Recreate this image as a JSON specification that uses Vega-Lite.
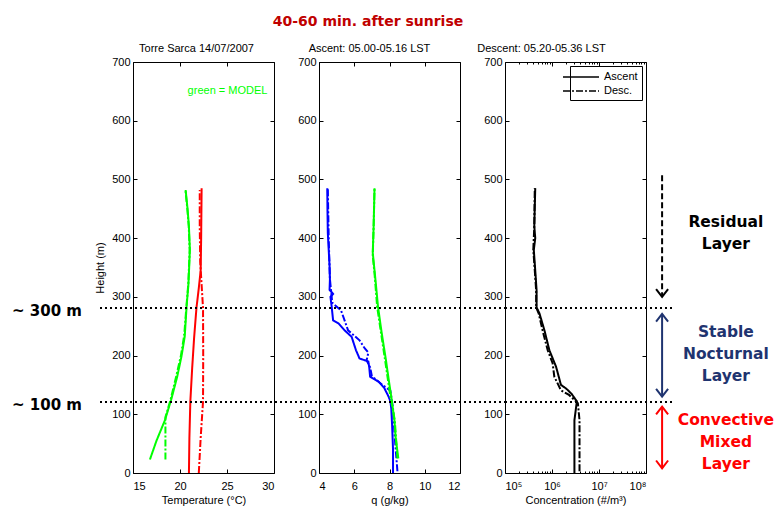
{
  "$schema": "https://vega.github.io/schema/vega-lite/v6.json",
  "autosize": {"type": "none"},
  "padding": {"left": 133, "top": 62, "right": 648, "bottom": 454},
  "title": {"text": "40-60 min. after sunrise", "color": "#c00000", "font": "DejaVu Sans", "fontSize": 14, "fontWeight": "bold", "anchor": "middle", "frame": "group", "dx": 235, "offset": 14},
  "datasets": {
    "temp": [
      {"series": "Model", "run": "Ascent", "v": 16.8, "h": 23},
      {"series": "Model", "run": "Ascent", "v": 17.5, "h": 55},
      {"series": "Model", "run": "Ascent", "v": 18.4, "h": 90},
      {"series": "Model", "run": "Ascent", "v": 19.1, "h": 127},
      {"series": "Model", "run": "Ascent", "v": 19.7, "h": 164},
      {"series": "Model", "run": "Ascent", "v": 20.15, "h": 198},
      {"series": "Model", "run": "Ascent", "v": 20.5, "h": 232},
      {"series": "Model", "run": "Ascent", "v": 20.7, "h": 283},
      {"series": "Model", "run": "Ascent", "v": 20.9, "h": 322},
      {"series": "Model", "run": "Ascent", "v": 21.0, "h": 360},
      {"series": "Model", "run": "Ascent", "v": 21.05, "h": 380},
      {"series": "Model", "run": "Ascent", "v": 20.95, "h": 420},
      {"series": "Model", "run": "Ascent", "v": 20.8, "h": 450},
      {"series": "Model", "run": "Ascent", "v": 20.6, "h": 482},
      {"series": "Model", "run": "Desc.", "v": 18.45, "h": 23},
      {"series": "Model", "run": "Desc.", "v": 18.45, "h": 95},
      {"series": "Model", "run": "Desc.", "v": 19.0, "h": 125},
      {"series": "Model", "run": "Desc.", "v": 19.6, "h": 165},
      {"series": "Model", "run": "Desc.", "v": 20.1, "h": 200},
      {"series": "Model", "run": "Desc.", "v": 20.45, "h": 235},
      {"series": "Model", "run": "Desc.", "v": 20.68, "h": 283},
      {"series": "Model", "run": "Desc.", "v": 20.88, "h": 322},
      {"series": "Model", "run": "Desc.", "v": 20.98, "h": 360},
      {"series": "Model", "run": "Desc.", "v": 21.03, "h": 380},
      {"series": "Model", "run": "Desc.", "v": 20.93, "h": 420},
      {"series": "Model", "run": "Desc.", "v": 20.78, "h": 450},
      {"series": "Model", "run": "Desc.", "v": 20.58, "h": 482},
      {"series": "Obs", "run": "Ascent", "v": 20.95, "h": 0},
      {"series": "Obs", "run": "Ascent", "v": 21.0, "h": 60},
      {"series": "Obs", "run": "Ascent", "v": 21.1, "h": 122},
      {"series": "Obs", "run": "Ascent", "v": 21.3, "h": 180},
      {"series": "Obs", "run": "Ascent", "v": 21.5, "h": 230},
      {"series": "Obs", "run": "Ascent", "v": 21.75, "h": 281},
      {"series": "Obs", "run": "Ascent", "v": 22.0, "h": 315},
      {"series": "Obs", "run": "Ascent", "v": 22.2, "h": 345},
      {"series": "Obs", "run": "Ascent", "v": 22.25, "h": 400},
      {"series": "Obs", "run": "Ascent", "v": 22.3, "h": 485},
      {"series": "Obs", "run": "Desc.", "v": 22.0, "h": 0},
      {"series": "Obs", "run": "Desc.", "v": 22.2, "h": 60},
      {"series": "Obs", "run": "Desc.", "v": 22.45, "h": 122},
      {"series": "Obs", "run": "Desc.", "v": 22.47, "h": 200},
      {"series": "Obs", "run": "Desc.", "v": 22.45, "h": 281},
      {"series": "Obs", "run": "Desc.", "v": 22.3, "h": 320},
      {"series": "Obs", "run": "Desc.", "v": 22.15, "h": 360},
      {"series": "Obs", "run": "Desc.", "v": 22.1, "h": 420},
      {"series": "Obs", "run": "Desc.", "v": 22.1, "h": 482}
    ],
    "q": [
      {"series": "Obs", "run": "Ascent", "v": 8.2, "h": 0},
      {"series": "Obs", "run": "Ascent", "v": 8.2, "h": 40},
      {"series": "Obs", "run": "Ascent", "v": 8.15, "h": 80},
      {"series": "Obs", "run": "Ascent", "v": 8.1, "h": 110},
      {"series": "Obs", "run": "Ascent", "v": 8.05, "h": 122},
      {"series": "Obs", "run": "Ascent", "v": 7.95, "h": 130},
      {"series": "Obs", "run": "Ascent", "v": 7.7, "h": 145},
      {"series": "Obs", "run": "Ascent", "v": 7.4, "h": 155},
      {"series": "Obs", "run": "Ascent", "v": 6.9, "h": 164},
      {"series": "Obs", "run": "Ascent", "v": 6.85, "h": 180},
      {"series": "Obs", "run": "Ascent", "v": 6.8, "h": 190},
      {"series": "Obs", "run": "Ascent", "v": 6.3, "h": 195},
      {"series": "Obs", "run": "Ascent", "v": 6.1, "h": 209},
      {"series": "Obs", "run": "Ascent", "v": 5.85, "h": 232},
      {"series": "Obs", "run": "Ascent", "v": 5.45, "h": 243},
      {"series": "Obs", "run": "Ascent", "v": 5.1, "h": 255},
      {"series": "Obs", "run": "Ascent", "v": 4.8, "h": 260},
      {"series": "Obs", "run": "Ascent", "v": 4.72, "h": 283},
      {"series": "Obs", "run": "Ascent", "v": 4.65, "h": 300},
      {"series": "Obs", "run": "Ascent", "v": 4.8, "h": 305},
      {"series": "Obs", "run": "Ascent", "v": 4.6, "h": 312},
      {"series": "Obs", "run": "Ascent", "v": 4.62, "h": 330},
      {"series": "Obs", "run": "Ascent", "v": 4.6, "h": 352},
      {"series": "Obs", "run": "Ascent", "v": 4.5, "h": 409},
      {"series": "Obs", "run": "Ascent", "v": 4.48, "h": 450},
      {"series": "Obs", "run": "Ascent", "v": 4.47, "h": 485},
      {"series": "Obs", "run": "Desc.", "v": 8.45, "h": 3},
      {"series": "Obs", "run": "Desc.", "v": 8.3, "h": 60},
      {"series": "Obs", "run": "Desc.", "v": 8.2, "h": 110},
      {"series": "Obs", "run": "Desc.", "v": 8.05, "h": 140},
      {"series": "Obs", "run": "Desc.", "v": 7.6, "h": 150},
      {"series": "Obs", "run": "Desc.", "v": 7.0, "h": 165},
      {"series": "Obs", "run": "Desc.", "v": 6.9, "h": 180},
      {"series": "Obs", "run": "Desc.", "v": 6.7, "h": 192},
      {"series": "Obs", "run": "Desc.", "v": 6.8, "h": 205},
      {"series": "Obs", "run": "Desc.", "v": 6.6, "h": 212},
      {"series": "Obs", "run": "Desc.", "v": 6.3, "h": 226},
      {"series": "Obs", "run": "Desc.", "v": 5.65, "h": 243},
      {"series": "Obs", "run": "Desc.", "v": 5.25, "h": 277},
      {"series": "Obs", "run": "Desc.", "v": 4.75, "h": 290},
      {"series": "Obs", "run": "Desc.", "v": 4.72, "h": 300},
      {"series": "Obs", "run": "Desc.", "v": 4.62, "h": 330},
      {"series": "Obs", "run": "Desc.", "v": 4.55, "h": 400},
      {"series": "Obs", "run": "Desc.", "v": 4.5, "h": 485},
      {"series": "Model", "run": "Ascent", "v": 8.5, "h": 25},
      {"series": "Model", "run": "Ascent", "v": 8.35, "h": 60},
      {"series": "Model", "run": "Ascent", "v": 8.28, "h": 90},
      {"series": "Model", "run": "Ascent", "v": 8.1, "h": 130},
      {"series": "Model", "run": "Ascent", "v": 7.95, "h": 160},
      {"series": "Model", "run": "Ascent", "v": 7.8, "h": 192},
      {"series": "Model", "run": "Ascent", "v": 7.55, "h": 240},
      {"series": "Model", "run": "Ascent", "v": 7.35, "h": 283},
      {"series": "Model", "run": "Ascent", "v": 7.2, "h": 330},
      {"series": "Model", "run": "Ascent", "v": 7.1, "h": 360},
      {"series": "Model", "run": "Ascent", "v": 7.05, "h": 375},
      {"series": "Model", "run": "Ascent", "v": 7.1, "h": 420},
      {"series": "Model", "run": "Ascent", "v": 7.15, "h": 485},
      {"series": "Model", "run": "Desc.", "v": 8.45, "h": 25},
      {"series": "Model", "run": "Desc.", "v": 8.3, "h": 90},
      {"series": "Model", "run": "Desc.", "v": 8.05, "h": 130},
      {"series": "Model", "run": "Desc.", "v": 7.75, "h": 192},
      {"series": "Model", "run": "Desc.", "v": 7.3, "h": 283},
      {"series": "Model", "run": "Desc.", "v": 7.15, "h": 340},
      {"series": "Model", "run": "Desc.", "v": 7.05, "h": 370},
      {"series": "Model", "run": "Desc.", "v": 7.1, "h": 420},
      {"series": "Model", "run": "Desc.", "v": 7.15, "h": 485}
    ],
    "conc": [
      {"run": "Ascent", "v": 3000000, "h": 0},
      {"run": "Ascent", "v": 3000000, "h": 90},
      {"run": "Ascent", "v": 3380000, "h": 122},
      {"run": "Ascent", "v": 2600000, "h": 135},
      {"run": "Ascent", "v": 1990000, "h": 144},
      {"run": "Ascent", "v": 1550000, "h": 150},
      {"run": "Ascent", "v": 1350000, "h": 168},
      {"run": "Ascent", "v": 1220000, "h": 181},
      {"run": "Ascent", "v": 880000, "h": 209},
      {"run": "Ascent", "v": 690000, "h": 243},
      {"run": "Ascent", "v": 540000, "h": 272},
      {"run": "Ascent", "v": 470000, "h": 282},
      {"run": "Ascent", "v": 470000, "h": 311},
      {"run": "Ascent", "v": 440000, "h": 345},
      {"run": "Ascent", "v": 410000, "h": 380},
      {"run": "Ascent", "v": 440000, "h": 400},
      {"run": "Ascent", "v": 420000, "h": 420},
      {"run": "Ascent", "v": 440000, "h": 485},
      {"run": "Desc.", "v": 3850000, "h": 3},
      {"run": "Desc.", "v": 3850000, "h": 90},
      {"run": "Desc.", "v": 3550000, "h": 119},
      {"run": "Desc.", "v": 2300000, "h": 133},
      {"run": "Desc.", "v": 1550000, "h": 141},
      {"run": "Desc.", "v": 1120000, "h": 164},
      {"run": "Desc.", "v": 1030000, "h": 187},
      {"run": "Desc.", "v": 810000, "h": 209},
      {"run": "Desc.", "v": 630000, "h": 243},
      {"run": "Desc.", "v": 520000, "h": 272},
      {"run": "Desc.", "v": 460000, "h": 282},
      {"run": "Desc.", "v": 460000, "h": 311},
      {"run": "Desc.", "v": 430000, "h": 345},
      {"run": "Desc.", "v": 400000, "h": 380},
      {"run": "Desc.", "v": 420000, "h": 420},
      {"run": "Desc.", "v": 430000, "h": 485}
    ],
    "levels": [
      {"h": 281, "label": "~ 300 m"},
      {"h": 121, "label": "~ 100 m"}
    ],
    "arrows": [
      {"zone": "Residual", "top": 507, "bottom": 301},
      {"zone": "Stable", "top": 270, "bottom": 131},
      {"zone": "Convective", "top": 112, "bottom": 9}
    ],
    "heads": [
      {"zone": "Residual", "h": 300, "dir": "down"},
      {"zone": "Stable", "h": 271, "dir": "up"},
      {"zone": "Stable", "h": 130, "dir": "down"},
      {"zone": "Convective", "h": 113, "dir": "up"},
      {"zone": "Convective", "h": 8, "dir": "down"}
    ],
    "notes": [
      {"zone": "Residual", "h": 419, "text": "Residual\nLayer"},
      {"zone": "Stable", "h": 232, "text": "Stable\nNocturnal\nLayer"},
      {"zone": "Convective", "h": 82, "text": "Convective\nMixed\nLayer"}
    ],
    "model_note": [
      {"text": "green = MODEL", "v": 29.3, "h": 651}
    ]
  },
  "spacing": 45,
  "bounds": "flush",
  "resolve": {
    "scale": {"color": "independent", "strokeDash": "independent"},
    "legend": {"color": "independent", "strokeDash": "independent"}
  },
  "hconcat": [
    {
      "width": 141,
      "height": 411,
      "title": {"text": "Torre Sarca 14/07/2007", "dx": -7},
      "resolve": {"axis": {"x": "independent", "y": "independent"}},
      "layer": [
        {
          "data": {"name": "temp"},
          "mark": {"type": "line", "strokeWidth": 2},
          "encoding": {
            "x": {"field": "v", "type": "quantitative", "scale": {"domain": [15, 30], "nice": false, "zero": false}, "axis": {"orient": "bottom", "values": [15, 20, 25, 30], "title": "Temperature (°C)"}},
            "y": {"field": "h", "type": "quantitative", "scale": {"domain": [0, 700], "nice": false}, "axis": {"orient": "left", "values": [0, 100, 200, 300, 400, 500, 600, 700], "title": "Height (m)"}},
            "color": {"field": "series", "type": "nominal", "scale": {"domain": ["Obs", "Model"], "range": ["#ff0000", "#00ff00"]}, "legend": null},
            "strokeDash": {"field": "run", "type": "nominal", "scale": {"domain": ["Ascent", "Desc."], "range": [[1, 0], [7, 2, 2, 2]]}, "legend": null},
            "order": {"field": "h", "type": "quantitative"}
          }
        },
        {
          "data": {"name": "levels"},
          "mark": {"type": "rule", "strokeDash": [2, 3], "strokeWidth": 2, "color": "black"},
          "encoding": {
            "x": {"datum": 11.49, "type": "quantitative", "axis": {"orient": "top", "values": [15, 20, 25, 30], "labels": false, "title": null}},
            "x2": {"datum": 34.79},
            "y": {"field": "h", "type": "quantitative", "axis": {"orient": "right", "values": [0, 100, 200, 300, 400, 500, 600, 700], "labels": false, "title": null}}
          }
        },
        {
          "data": {"name": "levels"},
          "mark": {"type": "text", "align": "left", "baseline": "middle", "font": "DejaVu Sans", "fontSize": 15, "fontWeight": "bold", "color": "black", "dy": 3},
          "encoding": {
            "x": {"datum": 2.13, "type": "quantitative", "axis": null},
            "y": {"field": "h", "type": "quantitative", "axis": null},
            "text": {"field": "label"}
          }
        },
        {
          "data": {"name": "model_note"},
          "mark": {"type": "text", "align": "right", "baseline": "middle", "fontSize": 11, "color": "#00ff00"},
          "encoding": {
            "x": {"field": "v", "type": "quantitative", "axis": null},
            "y": {"field": "h", "type": "quantitative", "axis": null},
            "text": {"field": "text"}
          }
        }
      ]
    },
    {
      "width": 141,
      "height": 411,
      "title": {"text": "Ascent: 05.00-05.16 LST", "dx": -20},
      "resolve": {"axis": {"x": "independent", "y": "independent"}},
      "layer": [
        {
          "data": {"name": "q"},
          "mark": {"type": "line", "strokeWidth": 2},
          "encoding": {
            "x": {"field": "v", "type": "quantitative", "scale": {"domain": [4, 12], "nice": false, "zero": false}, "axis": {"orient": "bottom", "values": [4, 6, 8, 10, 12], "title": "q (g/kg)"}},
            "y": {"field": "h", "type": "quantitative", "scale": {"domain": [0, 700], "nice": false}, "axis": {"orient": "left", "values": [0, 100, 200, 300, 400, 500, 600, 700], "title": null}},
            "color": {"field": "series", "type": "nominal", "scale": {"domain": ["Obs", "Model"], "range": ["#0000ff", "#00ff00"]}, "legend": null},
            "strokeDash": {"field": "run", "type": "nominal", "scale": {"domain": ["Ascent", "Desc."], "range": [[1, 0], [7, 2, 2, 2]]}, "legend": null},
            "order": {"field": "h", "type": "quantitative"}
          }
        },
        {
          "data": {"name": "levels"},
          "mark": {"type": "rule", "strokeDash": [2, 3], "strokeWidth": 2, "color": "black"},
          "encoding": {
            "x": {"datum": 4, "type": "quantitative", "axis": {"orient": "top", "values": [4, 6, 8, 10, 12], "labels": false, "title": null}},
            "x2": {"datum": 14.61},
            "y": {"field": "h", "type": "quantitative", "axis": {"orient": "right", "values": [0, 100, 200, 300, 400, 500, 600, 700], "labels": false, "title": null}}
          }
        }
      ]
    },
    {
      "width": 141,
      "height": 411,
      "title": {"text": "Descent: 05.20-05.36 LST", "dx": -34},
      "resolve": {"axis": {"x": "independent", "y": "independent"}},
      "layer": [
        {
          "data": {"name": "conc"},
          "mark": {"type": "line", "strokeWidth": 2, "color": "black"},
          "encoding": {
            "x": {"field": "v", "type": "quantitative", "scale": {"type": "log", "domain": [100000, 100000000], "nice": false}, "axis": {"orient": "bottom", "values": [100000, 200000, 300000, 400000, 500000, 600000, 700000, 800000, 900000, 1000000, 2000000, 3000000, 4000000, 5000000, 6000000, 7000000, 8000000, 9000000, 10000000, 20000000, 30000000, 40000000, 50000000, 60000000, 70000000, 80000000, 90000000, 100000000], "labelExpr": "datum.value == 100000 ? '10⁵' : datum.value == 1000000 ? '10⁶' : datum.value == 10000000 ? '10⁷' : datum.value == 100000000 ? '10⁸' : ''", "tickSize": {"condition": {"test": "indexof([100000, 1000000, 10000000, 100000000], datum.value) < 0", "value": -2}, "value": -4}, "title": "Concentration (#/m³)"}},
            "y": {"field": "h", "type": "quantitative", "scale": {"domain": [0, 700], "nice": false}, "axis": {"orient": "left", "values": [0, 100, 200, 300, 400, 500, 600, 700], "title": null}},
            "strokeDash": {"field": "run", "type": "nominal", "title": null, "scale": {"domain": ["Ascent", "Desc."], "range": [[1, 0], [7, 2, 2, 2]]}, "legend": {"orient": "top-right", "offset": 4, "title": null, "strokeColor": "black", "fillColor": "white", "padding": 4, "symbolType": "M-3,0L3,0", "symbolSize": 144, "symbolStrokeWidth": 1.5, "symbolStrokeColor": "black", "symbolFillColor": "transparent", "labelFontSize": 11, "labelOffset": 16, "rowPadding": 2, "cornerRadius": 0}},
            "order": {"field": "h", "type": "quantitative"}
          }
        },
        {
          "data": {"name": "levels"},
          "mark": {"type": "rule", "strokeDash": [2, 3], "strokeWidth": 2, "color": "black"},
          "encoding": {
            "x": {"datum": 100000, "type": "quantitative", "axis": {"orient": "top", "values": [100000, 200000, 300000, 400000, 500000, 600000, 700000, 800000, 900000, 1000000, 2000000, 3000000, 4000000, 5000000, 6000000, 7000000, 8000000, 9000000, 10000000, 20000000, 30000000, 40000000, 50000000, 60000000, 70000000, 80000000, 90000000, 100000000], "labels": false, "tickSize": {"condition": {"test": "indexof([100000, 1000000, 10000000, 100000000], datum.value) < 0", "value": -2}, "value": -4}, "title": null}},
            "x2": {"datum": 379000000},
            "y": {"field": "h", "type": "quantitative", "axis": {"orient": "right", "values": [0, 100, 200, 300, 400, 500, 600, 700], "labels": false, "title": null}}
          }
        },
        {
          "data": {"name": "arrows"},
          "transform": [{"filter": "datum.zone == 'Residual'"}],
          "mark": {"type": "rule", "strokeWidth": 2, "strokeDash": [6, 3], "color": "black"},
          "encoding": {
            "x": {"datum": 220000000, "type": "quantitative", "axis": null},
            "y": {"field": "top", "type": "quantitative", "axis": null},
            "y2": {"field": "bottom"}
          }
        },
        {
          "data": {"name": "arrows"},
          "transform": [{"filter": "datum.zone != 'Residual'"}],
          "mark": {"type": "rule", "strokeWidth": 2},
          "encoding": {
            "x": {"datum": 220000000, "type": "quantitative", "axis": null},
            "y": {"field": "top", "type": "quantitative", "axis": null},
            "y2": {"field": "bottom"},
            "color": {"field": "zone", "type": "nominal", "scale": {"domain": ["Residual", "Stable", "Convective"], "range": ["#000000", "#1f3470", "#ff0000"]}, "legend": null}
          }
        },
        {
          "data": {"name": "heads"},
          "transform": [{"filter": "datum.dir == 'down'"}],
          "mark": {"type": "point", "shape": "M-1,-1.3L0,0L1,-1.3", "filled": false, "size": 144, "strokeWidth": 2, "opacity": 1},
          "encoding": {
            "x": {"datum": 220000000, "type": "quantitative", "axis": null},
            "y": {"field": "h", "type": "quantitative", "axis": null},
            "color": {"field": "zone", "type": "nominal", "legend": null}
          }
        },
        {
          "data": {"name": "heads"},
          "transform": [{"filter": "datum.dir == 'up'"}],
          "mark": {"type": "point", "shape": "M-1,1.3L0,0L1,1.3", "filled": false, "size": 144, "strokeWidth": 2, "opacity": 1},
          "encoding": {
            "x": {"datum": 220000000, "type": "quantitative", "axis": null},
            "y": {"field": "h", "type": "quantitative", "axis": null},
            "color": {"field": "zone", "type": "nominal", "legend": null}
          }
        },
        {
          "data": {"name": "notes"},
          "mark": {"type": "text", "align": "center", "baseline": "alphabetic", "lineBreak": "\n", "lineHeight": 22, "font": "DejaVu Sans", "fontSize": 15.5, "fontWeight": "bold"},
          "encoding": {
            "x": {"datum": 5000000000, "type": "quantitative", "axis": null},
            "y": {"field": "h", "type": "quantitative", "axis": null},
            "text": {"field": "text"},
            "color": {"field": "zone", "type": "nominal", "legend": null}
          }
        }
      ]
    }
  ],
  "config": {
    "font": "Liberation Sans",
    "background": "white",
    "view": {"stroke": "black", "strokeWidth": 1},
    "axis": {"grid": false, "domain": false, "tickSize": -4, "tickColor": "black", "tickWidth": 1, "labelColor": "black", "labelFontSize": 11, "labelFont": "Liberation Sans", "titleFont": "Liberation Sans", "titleFontSize": 11, "titleFontWeight": "normal", "titleColor": "black"},
    "axisX": {"labelPadding": 11, "titlePadding": 3},
    "axisY": {"labelPadding": 7, "titlePadding": 6},
    "title": {"fontSize": 11, "fontWeight": "normal", "color": "black", "font": "Liberation Sans", "offset": 2},
    "legend": {"labelFont": "Liberation Sans", "labelColor": "black"}
  }
}
